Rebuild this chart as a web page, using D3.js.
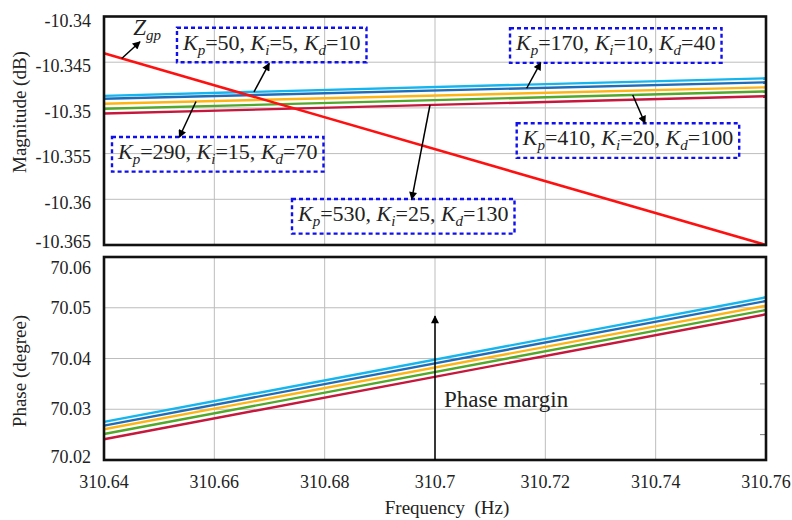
<!DOCTYPE html>
<html>
<head>
<meta charset="utf-8">
<script src="https://cdn.jsdelivr.net/npm/d3@7"></script>
<style>
  html, body { margin: 0; padding: 0; background: #fff; }
  svg { display: block; }
  text { font-family: "Liberation Serif", "Times New Roman", serif; fill: #222; }
</style>
</head>
<body>
<svg id="chart" width="792" height="520" font-family="Liberation Serif, Times New Roman, serif"></svg>
<script>
// Frequency sweep end points (Hz)
const freq = [310.64, 310.76];

// PID gain sets, one per curve
const kp = [50, 170, 290, 410, 530];
const ki = [5, 10, 15, 20, 25];
const kd = [10, 40, 70, 100, 130];
const curveColors = ["#15b5ee", "#1f6db8", "#fdb515", "#52a82a", "#c6183c"];

// Magnitude (dB) of each gain set at the sweep end points
const magKp50  = [-10.34868, -10.34676];
const magKp170 = [-10.34900, -10.34720];
const magKp290 = [-10.34955, -10.34775];
const magKp410 = [-10.35010, -10.34820];
const magKp530 = [-10.35062, -10.34872];
const magZgp   = [-10.34403, -10.36500];

// Phase (degree) of each gain set at the sweep end points
const phKp50  = [70.02750, 70.05206];
const phKp170 = [70.02677, 70.05133];
const phKp290 = [70.02606, 70.05040];
const phKp410 = [70.02513, 70.04956];
const phKp530 = [70.02408, 70.04871];

const magSeries = [magKp50, magKp170, magKp290, magKp410, magKp530];
const phSeries = [phKp50, phKp170, phKp290, phKp410, phKp530];

const xTicks = [310.64, 310.66, 310.68, 310.7, 310.72, 310.74, 310.76];
const magTicks = [-10.34, -10.345, -10.35, -10.355, -10.36, -10.365];
const phTicks = [70.02, 70.03, 70.04, 70.05, 70.06];
const phMinorTicks = [70.025, 70.035];

const svg = d3.select("#chart");

const x = d3.scaleLinear().domain([310.64, 310.76]).range([104, 766]);
const yMag = d3.scaleLinear().domain([-10.365, -10.34]).range([245, 16.5]);
const yPh = d3.scaleLinear().domain([70.02, 70.06]).range([460, 257]);

// plain number text with an ASCII hyphen for negatives
const fmt = d => String(d);

// arrowhead marker
svg.append("defs").append("marker")
  .attr("id", "head")
  .attr("viewBox", "0 0 10 10")
  .attr("refX", 9).attr("refY", 5)
  .attr("markerWidth", 10).attr("markerHeight", 8)
  .attr("markerUnits", "userSpaceOnUse")
  .attr("orient", "auto")
  .append("path").attr("d", "M0,0 L10,5 L0,10 Z").attr("fill", "#000");

function panel(y, ticks, minor, labelShift) {
  const g = svg.append("g");
  const [y0, y1] = y.range();
  // grid
  g.append("g").selectAll("line").data(xTicks.slice(1, -1)).join("line")
    .attr("x1", d => x(d)).attr("x2", d => x(d))
    .attr("y1", y1).attr("y2", y0)
    .attr("stroke", "#bdbdbd").attr("stroke-width", 1);
  g.append("g").selectAll("line").data(ticks.slice(1, -1)).join("line")
    .attr("x1", 104).attr("x2", 766)
    .attr("y1", d => y(d)).attr("y2", d => y(d))
    .attr("stroke", "#bdbdbd").attr("stroke-width", 1);
  g.append("g").selectAll("line").data(minor).join("line")
    .attr("x1", 760).attr("x2", 766)
    .attr("y1", d => y(d)).attr("y2", d => y(d))
    .attr("stroke", "#777").attr("stroke-width", 1);
  // y tick labels
  g.append("g").selectAll("text").data(ticks).join("text")
    .attr("x", 91)
    .attr("y", (d, i) => y(d) + labelShift(i, ticks.length))
    .attr("text-anchor", "end")
    .attr("dominant-baseline", "central")
    .attr("font-size", 18)
    .text(fmt);
  return g;
}

// magnitude ticks run top (-10.34) to bottom (-10.365)
const magG = panel(yMag, magTicks, [],
  (i, n) => i === 0 ? 4.5 : (i === n - 1 ? -3.3 : 3.7));
// phase ticks run bottom (70.02) to top (70.06)
const phG = panel(yPh, phTicks, phMinorTicks,
  (i, n) => i === 0 ? -3.5 : (i === n - 1 ? 10.5 : 0));

const line = (y) => d3.line().x((d, i) => x(freq[i])).y(d => y(d));

// magnitude curves
magG.append("g").selectAll("path").data(magSeries).join("path")
  .attr("d", d => line(yMag)(d))
  .attr("fill", "none")
  .attr("stroke", (d, i) => curveColors[i])
  .attr("stroke-width", 2.4);
magG.append("path").attr("d", line(yMag)(magZgp))
  .attr("fill", "none").attr("stroke", "#ff1010").attr("stroke-width", 2.6);

// phase curves
phG.append("g").selectAll("path").data(phSeries).join("path")
  .attr("d", d => line(yPh)(d))
  .attr("fill", "none")
  .attr("stroke", (d, i) => curveColors[i])
  .attr("stroke-width", 2.4);

// frames
[yMag, yPh].forEach(y => {
  const [y0, y1] = y.range();
  svg.append("rect").attr("x", 104).attr("y", y1)
    .attr("width", 662).attr("height", y0 - y1)
    .attr("fill", "none").attr("stroke", "#111").attr("stroke-width", 2.6);
});

// x tick labels
svg.append("g").selectAll("text").data(xTicks).join("text")
  .attr("x", d => x(d)).attr("y", 488)
  .attr("text-anchor", "middle")
  .attr("font-size", 18)
  .text(fmt);

// axis titles
svg.append("text")
  .attr("transform", "translate(26,112) rotate(-90)")
  .attr("text-anchor", "middle").attr("font-size", 19)
  .text("Magnitude (dB)");
svg.append("text")
  .attr("transform", "translate(26,371) rotate(-90)")
  .attr("text-anchor", "middle").attr("font-size", 19)
  .text("Phase (degree)");
svg.append("text")
  .attr("x", 447).attr("y", 514)
  .attr("text-anchor", "middle").attr("font-size", 19)
  .style("white-space", "pre")
  .text("Frequency  (Hz)");

// gain-set callouts: box corner, arrow tail (on the curve) and arrow head, in data units
const callouts = [
  { set: 0, box: [310.65323, -10.341225], tail: 310.66719, head: [310.66996, -10.345120] },
  { set: 1, box: [310.71360, -10.341291], tail: 310.71662, head: [310.71916, -10.345055] },
  { set: 2, box: [310.64145, -10.353184], tail: 310.65668, head: [310.65365, -10.353217] },
  { set: 3, box: [310.71481, -10.351685], tail: 310.73584, head: [310.73807, -10.351685] },
  { set: 4, box: [310.67408, -10.359968], tail: 310.69909, head: [310.69578, -10.360000] }
];

function onCurve(series, f) {
  const t = (f - freq[0]) / (freq[1] - freq[0]);
  return series[0] + t * (series[1] - series[0]);
}

function arrow(x1, y1, x2, y2) {
  svg.append("line")
    .attr("x1", x1).attr("y1", y1).attr("x2", x2).attr("y2", y2)
    .attr("stroke", "#000").attr("stroke-width", 1.5)
    .attr("marker-end", "url(#head)");
}

callouts.forEach(c => {
  const bx = x(c.box[0]), by = yMag(c.box[1]);
  const g = svg.append("g");
  const t = g.append("text").attr("x", bx + 6).attr("y", by + 22).attr("font-size", 22);
  const parts = [
    ["K", "i"], ["p", "s"], ["=" + kp[c.set] + ", "],
    ["K", "i"], ["i", "s"], ["=" + ki[c.set] + ", "],
    ["K", "i"], ["d", "s"], ["=" + kd[c.set]]
  ];
  parts.forEach(([s, kind]) => {
    const sp = t.append("tspan").text(s);
    if (kind === "i") sp.attr("font-style", "italic");
    if (kind === "s") sp.attr("font-style", "italic").attr("font-size", 15).attr("dy", 5);
    if (kind === undefined && s.startsWith("=")) sp.attr("dy", -5);
  });
  const w = t.node().getComputedTextLength();
  g.insert("rect", "text")
    .attr("x", bx).attr("y", by)
    .attr("width", w + 12).attr("height", 34.6)
    .attr("fill", "none")
    .attr("stroke", "#1010ee").attr("stroke-width", 2.4)
    .attr("stroke-dasharray", "4,3");
  arrow(x(c.tail), yMag(onCurve(magSeries[c.set], c.tail)), x(c.head[0]), yMag(c.head[1]));
});

// Zgp label and arrow
const zTail = 310.64321;
arrow(x(zTail), yMag(onCurve(magZgp, zTail)), x(310.64653), yMag(-10.342757));
const zt = svg.append("text").attr("x", x(310.64531)).attr("y", yMag(-10.342024))
  .attr("font-size", 23).attr("font-style", "italic");
zt.append("tspan").text("Z");
zt.append("tspan").text("gp").attr("font-size", 15).attr("dy", 5);

// phase margin marker
arrow(x(310.7), yPh(70.02), x(310.7), yPh(70.04838));
svg.append("text").attr("x", x(310.70164)).attr("y", yPh(70.03051))
  .attr("font-size", 23).text("Phase margin");
</script>
</body>
</html>
